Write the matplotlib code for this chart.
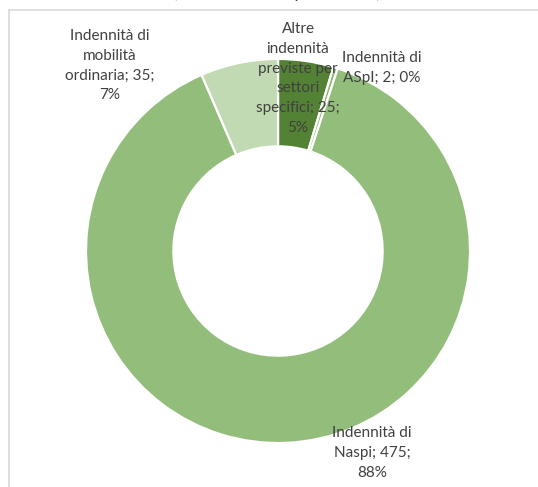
import matplotlib.pyplot as plt
from matplotlib.lines import Line2D

plt.rcParams['font.family'] = ['Lato', 'DejaVu Sans']

# categories and counts, clockwise from 12 o'clock
labels = ["Altre\nindennità\npreviste per\nsettori\nspecifici", "Indennità di\nASpI",
          "Indennità di\nNaspi", "Indennità di\nmobilità\nordinaria"]
values = [25, 2, 475, 35]
colors = ['#548235', '#8DB873', '#93BD7B', '#C1DAB3']

# label text centres in data units (centre of the ring at 0,0)
label_pos = [(0.104, 0.898), (0.542, 0.953), (0.49, -1.052), (-0.875, 0.964)]

total = sum(values)

fig = plt.figure(figsize=(5.38, 4.87), dpi=100)
ax = fig.add_axes([0, 0, 1, 1])
ax.pie(values, colors=colors, startangle=90, counterclock=False, radius=1.0,
       wedgeprops=dict(width=0.455, edgecolor='white', linewidth=1.6))
ax.set_xlim(-1.448, 1.354)
ax.set_ylim(-1.229, 1.307)
ax.set_aspect('auto')
ax.axis('off')

for lab, v, (x, y) in zip(labels, values, label_pos):
    pct = round(100 * v / total)
    if v == 2:
        txt = f"{lab}; {v}; {pct}%"
    else:
        txt = f"{lab}; {v};\n{pct}%"
    ax.text(x, y, txt, ha='center', va='center', fontsize=11, color='#404040',
            linespacing=1.52)

# chart frame, cut at the top and right
fig.add_artist(Line2D([0.0158, 0.0158], [0.0, 0.979], transform=fig.transFigure,
                      color='#D9D9D9', linewidth=1.2))
fig.add_artist(Line2D([0.0158, 1.0], [0.979, 0.979], transform=fig.transFigure,
                      color='#D9D9D9', linewidth=1.2))

# title, mostly above the visible area
fig.text(0.515, 0.9985, "(valori assoluti e percentuali)", ha='center', va='bottom',
         fontsize=12, color='#404040')

fig.savefig('out.png', dpi=100, facecolor='white')
